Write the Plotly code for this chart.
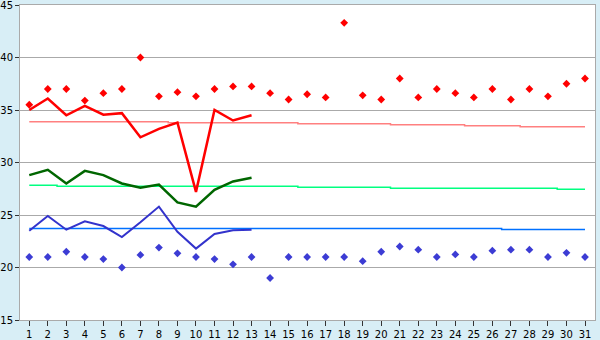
import plotly.graph_objects as go

days = list(range(1, 32))

red_points = [35.5, 37.0, 37.0, 35.9, 36.6, 37.0, 40.0, 36.3, 36.7, 36.3,
              37.0, 37.25, 37.25, 36.6, 36.0, 36.5, 36.2, 43.3, 36.4, 36.0,
              38.0, 36.2, 37.0, 36.6, 36.2, 37.0, 36.0, 37.0, 36.3, 37.5, 38.0]
blue_points = [21.0, 21.0, 21.5, 21.0, 20.8, 20.0, 21.2, 21.9, 21.35, 21.0,
               20.8, 20.3, 21.0, 19.0, 21.0, 21.0, 21.0, 21.0, 20.6, 21.5,
               22.0, 21.7, 21.0, 21.25, 21.0, 21.6, 21.7, 21.7, 21.0, 21.4, 21.0]

line_days = list(range(1, 14))
red_line = [35.0, 36.1, 34.5, 35.4, 34.55, 34.7, 32.4, 33.2, 33.8, 27.2, 35.0, 34.0, 34.5]
green_line = [28.8, 29.3, 28.0, 29.2, 28.8, 28.0, 27.6, 27.9, 26.2, 25.8, 27.4, 28.2, 28.55]
blue_line = [23.5, 24.9, 23.6, 24.4, 23.95, 22.9, 24.3, 25.8, 23.4, 21.8, 23.2, 23.55, 23.6]

red_avg = [33.89]*8 + [33.79]*7 + [33.70]*5 + [33.60]*4 + [33.50]*3 + [33.41]*4
green_avg = [27.83]*2 + [27.73]*13 + [27.64]*5 + [27.54]*9 + [27.45]*2
blue_avg = [23.71]*26 + [23.62]*5

y_ticks = [15, 20, 25, 30, 35, 40, 45]

fig = go.Figure()

for vals, col in [(red_avg, "#ff8080"), (green_avg, "#00ff80"), (blue_avg, "#0070ff")]:
    fig.add_trace(go.Scatter(x=days, y=vals, mode="lines", line=dict(color=col, width=1.5, shape="hvh")))

fig.add_trace(go.Scatter(x=line_days, y=red_line, mode="lines", line=dict(color="#ff0000", width=2.5)))
fig.add_trace(go.Scatter(x=line_days, y=green_line, mode="lines", line=dict(color="#006600", width=2.5)))
fig.add_trace(go.Scatter(x=line_days, y=blue_line, mode="lines", line=dict(color="#3333cc", width=2)))

fig.add_trace(go.Scatter(x=days, y=red_points, mode="markers",
                         marker=dict(symbol="diamond", size=6, color="#ff0000")))
fig.add_trace(go.Scatter(x=days, y=blue_points, mode="markers",
                         marker=dict(symbol="diamond", size=6, color="#3c3cd4")))

fig.update_layout(
    width=600, height=340,
    margin=dict(l=20, r=5, t=5, b=20),
    paper_bgcolor="#d8eef6",
    plot_bgcolor="#ffffff",
    showlegend=False,
    font=dict(family="DejaVu Sans", size=10, color="#000000"),
)
fig.update_xaxes(
    range=[0.5, 31.54], tickmode="array", tickvals=days, ticktext=[str(d) for d in days],
    showgrid=False, zeroline=False, showline=True, linecolor="#aaaaaa", linewidth=1, mirror=True,
    ticks="outside", ticklen=5, tickcolor="#333333", tickfont=dict(size=10), automargin=False,
    ticklabeloverflow="allow",
)
fig.update_yaxes(
    range=[15, 45], tickmode="array", tickvals=y_ticks, ticktext=[str(v) for v in y_ticks],
    showgrid=True, gridcolor="#aaaaaa", gridwidth=1, zeroline=False,
    showline=True, linecolor="#aaaaaa", linewidth=1, mirror=True,
    ticks="outside", ticklen=4, tickcolor="#333333", tickfont=dict(size=10), automargin=False,
    ticklabeloverflow="allow",
)

fig.write_html("out.html")
